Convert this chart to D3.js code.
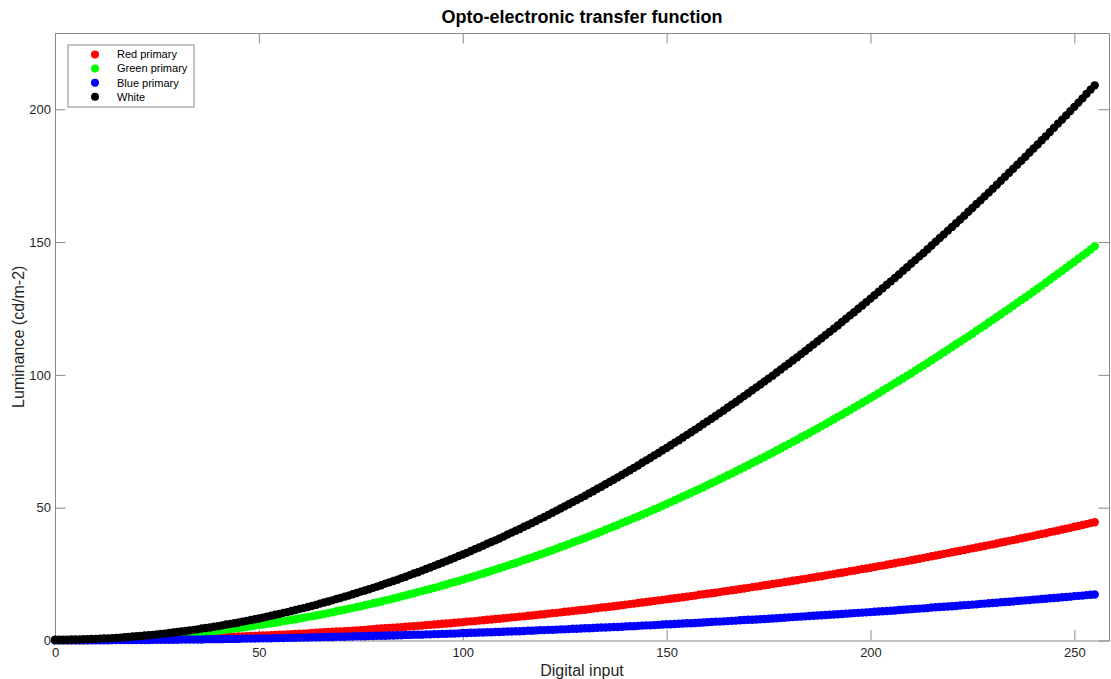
<!DOCTYPE html>
<html>
<head>
<meta charset="utf-8">
<script src="https://cdn.jsdelivr.net/npm/d3@7"></script>
<style>
  body { margin: 0; background: #fff; }
  text { font-family: "Liberation Sans", Arial, sans-serif; }
</style>
</head>
<body>
<div id="chart"></div>
<script>
// digital input levels 0..255
const digitalInput = d3.range(0, 256);

// luminance, one value per input level
const redPrimary = [
  0.1,0.1,0.1,0.1,0.1,0.1,0.1,0.1,0.1,0.2,0.2,0.2,0.2,0.2,0.2,0.3,
  0.3,0.3,0.3,0.3,0.4,0.4,0.4,0.5,0.5,0.5,0.6,0.6,0.6,0.7,0.7,0.8,
  0.8,0.8,0.9,0.9,1.0,1.0,1.1,1.1,1.2,1.2,1.3,1.4,1.4,1.5,1.5,1.6,
  1.7,1.7,1.8,1.9,1.9,2.0,2.1,2.2,2.2,2.3,2.4,2.5,2.6,2.6,2.7,2.8,
  2.9,3.0,3.1,3.2,3.3,3.4,3.4,3.5,3.6,3.7,3.8,3.9,4.0,4.2,4.3,4.4,
  4.5,4.6,4.7,4.8,4.9,5.0,5.2,5.3,5.4,5.5,5.6,5.8,5.9,6.0,6.1,6.3,
  6.4,6.5,6.7,6.8,6.9,7.1,7.2,7.3,7.5,7.6,7.8,7.9,8.1,8.2,8.4,8.5,
  8.7,8.8,9.0,9.1,9.3,9.4,9.6,9.8,9.9,10.1,10.3,10.4,10.6,10.8,10.9,11.1,
  11.3,11.5,11.6,11.8,12.0,12.2,12.4,12.5,12.7,12.9,13.1,13.3,13.5,13.7,13.9,14.1,
  14.3,14.5,14.7,14.9,15.1,15.3,15.5,15.7,15.9,16.1,16.3,16.5,16.7,16.9,17.2,17.4,
  17.6,17.8,18.0,18.2,18.5,18.7,18.9,19.1,19.4,19.6,19.8,20.1,20.3,20.5,20.8,21.0,
  21.3,21.5,21.7,22.0,22.2,22.5,22.7,23.0,23.2,23.5,23.7,24.0,24.2,24.5,24.8,25.0,
  25.3,25.5,25.8,26.1,26.3,26.6,26.9,27.1,27.4,27.7,28.0,28.2,28.5,28.8,29.1,29.4,
  29.6,29.9,30.2,30.5,30.8,31.1,31.4,31.7,32.0,32.3,32.6,32.9,33.2,33.5,33.8,34.1,
  34.4,34.7,35.0,35.3,35.6,35.9,36.2,36.5,36.9,37.2,37.5,37.8,38.1,38.5,38.8,39.1,
  39.4,39.8,40.1,40.4,40.8,41.1,41.4,41.8,42.1,42.4,42.8,43.1,43.5,43.8,44.2,44.5
];

const greenPrimary = [
  0.1,0.1,0.1,0.1,0.1,0.2,0.2,0.2,0.2,0.3,0.3,0.4,0.4,0.5,0.5,0.6,
  0.7,0.8,0.8,0.9,1.0,1.1,1.2,1.3,1.4,1.5,1.6,1.8,1.9,2.0,2.2,2.3,
  2.4,2.6,2.7,2.9,3.1,3.2,3.4,3.6,3.7,3.9,4.1,4.3,4.5,4.7,4.9,5.1,
  5.4,5.6,5.8,6.0,6.3,6.5,6.7,7.0,7.3,7.5,7.8,8.0,8.3,8.6,8.9,9.1,
  9.4,9.7,10.0,10.3,10.6,11.0,11.3,11.6,11.9,12.3,12.6,12.9,13.3,13.6,14.0,14.3,
  14.7,15.1,15.4,15.8,16.2,16.6,17.0,17.4,17.8,18.2,18.6,19.0,19.4,19.8,20.2,20.7,
  21.1,21.6,22.0,22.4,22.9,23.4,23.8,24.3,24.8,25.2,25.7,26.2,26.7,27.2,27.7,28.2,
  28.7,29.2,29.7,30.3,30.8,31.3,31.8,32.4,32.9,33.5,34.0,34.6,35.2,35.7,36.3,36.9,
  37.5,38.0,38.6,39.2,39.8,40.4,41.0,41.7,42.3,42.9,43.5,44.2,44.8,45.4,46.1,46.7,
  47.4,48.0,48.7,49.4,50.0,50.7,51.4,52.1,52.8,53.5,54.2,54.9,55.6,56.3,57.0,57.7,
  58.5,59.2,59.9,60.7,61.4,62.2,62.9,63.7,64.5,65.2,66.0,66.8,67.6,68.3,69.1,69.9,
  70.7,71.5,72.3,73.2,74.0,74.8,75.6,76.5,77.3,78.1,79.0,79.8,80.7,81.5,82.4,83.3,
  84.2,85.0,85.9,86.8,87.7,88.6,89.5,90.4,91.3,92.2,93.1,94.1,95.0,95.9,96.9,97.8,
  98.7,99.7,100.6,101.6,102.6,103.5,104.5,105.5,106.5,107.5,108.5,109.5,110.5,111.5,112.5,113.5,
  114.5,115.5,116.6,117.6,118.6,119.7,120.7,121.8,122.8,123.9,124.9,126.0,127.1,128.2,129.2,130.3,
  131.4,132.5,133.6,134.7,135.8,137.0,138.1,139.2,140.3,141.5,142.6,143.7,144.9,146.0,147.2,148.4
];

const bluePrimary = [
  0.1,0.1,0.1,0.1,0.1,0.1,0.1,0.1,0.1,0.1,0.1,0.1,0.1,0.1,0.2,0.2,
  0.2,0.2,0.2,0.2,0.2,0.2,0.2,0.2,0.3,0.3,0.3,0.3,0.3,0.3,0.3,0.4,
  0.4,0.4,0.4,0.4,0.4,0.5,0.5,0.5,0.5,0.5,0.6,0.6,0.6,0.6,0.7,0.7,
  0.7,0.7,0.8,0.8,0.8,0.8,0.9,0.9,0.9,1.0,1.0,1.0,1.1,1.1,1.1,1.2,
  1.2,1.2,1.3,1.3,1.3,1.4,1.4,1.4,1.5,1.5,1.6,1.6,1.6,1.7,1.7,1.8,
  1.8,1.8,1.9,1.9,2.0,2.0,2.1,2.1,2.2,2.2,2.2,2.3,2.3,2.4,2.4,2.5,
  2.5,2.6,2.6,2.7,2.8,2.8,2.9,2.9,3.0,3.0,3.1,3.1,3.2,3.2,3.3,3.4,
  3.4,3.5,3.5,3.6,3.7,3.7,3.8,3.9,3.9,4.0,4.0,4.1,4.2,4.2,4.3,4.4,
  4.4,4.5,4.6,4.6,4.7,4.8,4.9,4.9,5.0,5.1,5.1,5.2,5.3,5.4,5.4,5.5,
  5.6,5.7,5.7,5.8,5.9,6.0,6.1,6.1,6.2,6.3,6.4,6.5,6.5,6.6,6.7,6.8,
  6.9,7.0,7.1,7.1,7.2,7.3,7.4,7.5,7.6,7.7,7.8,7.8,7.9,8.0,8.1,8.2,
  8.3,8.4,8.5,8.6,8.7,8.8,8.9,9.0,9.1,9.2,9.3,9.4,9.5,9.6,9.7,9.8,
  9.9,10.0,10.1,10.2,10.3,10.4,10.5,10.6,10.7,10.8,10.9,11.0,11.1,11.2,11.3,11.5,
  11.6,11.7,11.8,11.9,12.0,12.1,12.2,12.4,12.5,12.6,12.7,12.8,12.9,13.0,13.2,13.3,
  13.4,13.5,13.6,13.8,13.9,14.0,14.1,14.2,14.4,14.5,14.6,14.7,14.9,15.0,15.1,15.2,
  15.4,15.5,15.6,15.7,15.9,16.0,16.1,16.3,16.4,16.5,16.7,16.8,16.9,17.1,17.2,17.3
];

const white = [
  0.3,0.3,0.3,0.3,0.4,0.4,0.4,0.5,0.5,0.6,0.6,0.7,0.8,0.8,0.9,1.0,
  1.1,1.2,1.3,1.5,1.6,1.7,1.9,2.0,2.1,2.3,2.5,2.6,2.8,3.0,3.2,3.4,
  3.6,3.8,4.0,4.2,4.5,4.7,4.9,5.2,5.4,5.7,6.0,6.2,6.5,6.8,7.1,7.4,
  7.7,8.0,8.3,8.6,9.0,9.3,9.7,10.0,10.4,10.7,11.1,11.5,11.9,12.2,12.6,13.0,
  13.4,13.9,14.3,14.7,15.1,15.6,16.0,16.5,16.9,17.4,17.9,18.4,18.8,19.3,19.8,20.3,
  20.8,21.4,21.9,22.4,22.9,23.5,24.0,24.6,25.2,25.7,26.3,26.9,27.5,28.1,28.7,29.3,
  29.9,30.5,31.1,31.8,32.4,33.0,33.7,34.4,35.0,35.7,36.4,37.1,37.7,38.4,39.1,39.9,
  40.6,41.3,42.0,42.8,43.5,44.2,45.0,45.8,46.5,47.3,48.1,48.9,49.7,50.5,51.3,52.1,
  52.9,53.7,54.5,55.4,56.2,57.1,57.9,58.8,59.7,60.5,61.4,62.3,63.2,64.1,65.0,65.9,
  66.9,67.8,68.7,69.7,70.6,71.6,72.5,73.5,74.5,75.4,76.4,77.4,78.4,79.4,80.4,81.5,
  82.5,83.5,84.5,85.6,86.6,87.7,88.8,89.8,90.9,92.0,93.1,94.2,95.3,96.4,97.5,98.6,
  99.7,100.9,102.0,103.2,104.3,105.5,106.6,107.8,109.0,110.2,111.4,112.6,113.8,115.0,116.2,117.4,
  118.6,119.9,121.1,122.4,123.6,124.9,126.1,127.4,128.7,130.0,131.3,132.6,133.9,135.2,136.5,137.8,
  139.2,140.5,141.9,143.2,144.6,145.9,147.3,148.7,150.1,151.5,152.9,154.3,155.7,157.1,158.5,159.9,
  161.4,162.8,164.3,165.7,167.2,168.6,170.1,171.6,173.1,174.6,176.1,177.6,179.1,180.6,182.1,183.7,
  185.2,186.7,188.3,189.8,191.4,193.0,194.6,196.1,197.7,199.3,200.9,202.5,204.1,205.8,207.4,209.0
];

const seriesNames = ["Red primary", "Green primary", "Blue primary", "White"];
const seriesValues = [redPrimary, greenPrimary, bluePrimary, white];
const seriesColors = ["#ff0000", "#00ff00", "#0000ff", "#000000"];

const xTicks = [0, 50, 100, 150, 200, 250];
const yTicks = [0, 50, 100, 150, 200];

const width = 1111;
const height = 679;
const margin = { top: 33, right: 2, bottom: 38.5, left: 55 };
const axisColor = "#8a8a8a";
const textColor = "#262626";
const tickLen = 10.5;

const x = d3.scaleLinear()
  .domain([0, 258.5])
  .range([margin.left, width - margin.right]);

const y = d3.scaleLinear()
  .domain([0, 228.7])
  .range([height - margin.bottom, margin.top]);

const svg = d3.select("#chart")
  .append("svg")
  .attr("width", width)
  .attr("height", height);

// box axes, ticks pointing inward
const styleAxis = g => {
  g.select(".domain").attr("stroke", axisColor).attr("stroke-width", 1);
  g.selectAll(".tick line").attr("stroke", axisColor).attr("stroke-width", 1);
  g.selectAll(".tick text")
    .attr("fill", textColor)
    .style("font-size", "13px")
    .style("font-family", "'Liberation Sans', Arial, sans-serif");
};

svg.append("g")
  .attr("transform", `translate(0,${y(0)})`)
  .call(d3.axisBottom(x).tickValues(xTicks).tickSizeInner(-tickLen).tickSizeOuter(0).tickPadding(7.5))
  .call(styleAxis);

svg.append("g")
  .attr("transform", `translate(0,${margin.top})`)
  .call(d3.axisTop(x).tickValues(xTicks).tickSizeInner(-tickLen).tickSizeOuter(0).tickFormat(""))
  .call(styleAxis);

svg.append("g")
  .attr("transform", `translate(${margin.left},0)`)
  .call(d3.axisLeft(y).tickValues(yTicks).tickSizeInner(-tickLen).tickSizeOuter(0).tickPadding(4))
  .call(styleAxis);

svg.append("g")
  .attr("transform", `translate(${width - margin.right},0)`)
  .call(d3.axisRight(y).tickValues(yTicks).tickSizeInner(-tickLen).tickSizeOuter(0).tickFormat(""))
  .call(styleAxis);

// the dots, drawn series by series so white ends up on top
seriesValues.forEach((vals, i) => {
  svg.append("g")
    .attr("class", "series")
    .selectAll("circle")
    .data(digitalInput.map((d, j) => ({ input: d, lum: vals[j] })))
    .enter().append("circle")
    .attr("cx", d => x(d.input))
    .attr("cy", d => y(d.lum))
    .attr("r", 4.2)
    .attr("fill", seriesColors[i]);
});

// title and axis labels
svg.append("text")
  .attr("x", (x.range()[0] + x.range()[1]) / 2)
  .attr("y", 23)
  .attr("text-anchor", "middle")
  .style("font-size", "18px")
  .style("font-weight", "bold")
  .attr("fill", "#000")
  .text("Opto-electronic transfer function");

svg.append("text")
  .attr("x", (x.range()[0] + x.range()[1]) / 2)
  .attr("y", 676)
  .attr("text-anchor", "middle")
  .style("font-size", "16px")
  .attr("fill", textColor)
  .text("Digital input");

svg.append("text")
  .attr("transform", `translate(24,${(y.range()[0] + y.range()[1]) / 2}) rotate(-90)`)
  .attr("text-anchor", "middle")
  .style("font-size", "16px")
  .attr("fill", textColor)
  .text("Luminance (cd/m-2)");

// legend
const legend = svg.append("g").attr("transform", "translate(68,45)");

legend.append("rect")
  .attr("width", 126)
  .attr("height", 62)
  .attr("fill", "#fff")
  .attr("stroke", axisColor);

const rows = legend.selectAll("g")
  .data(seriesNames)
  .enter().append("g")
  .attr("transform", (d, i) => `translate(0,${9.5 + i * 14.1})`);

rows.append("circle")
  .attr("cx", 27)
  .attr("cy", 0)
  .attr("r", 4)
  .attr("fill", (d, i) => seriesColors[i]);

rows.append("text")
  .attr("x", 49)
  .attr("dy", "0.35em")
  .style("font-size", "11px")
  .attr("fill", "#000")
  .text(d => d);
</script>
</body>
</html>
